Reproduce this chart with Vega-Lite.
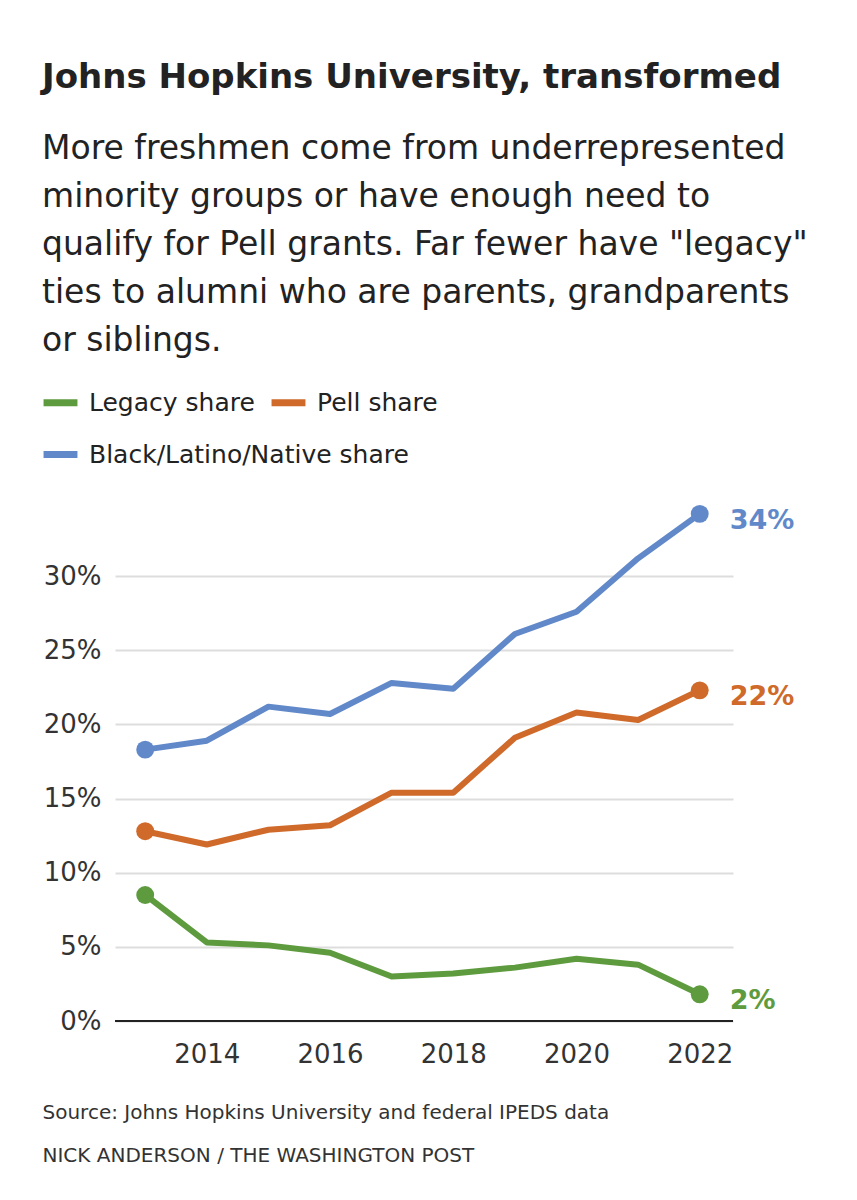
{
  "$schema": "https://vega.github.io/schema/vega-lite/v6.json",
  "width": 618,
  "height": 519,
  "autosize": {"type": "none"},
  "padding": {"left": 115, "top": 502, "right": 124, "bottom": 179},
  "background": "white",
  "title": {
    "text": "Johns Hopkins University, transformed",
    "subtitle": ["More freshmen come from underrepresented", "minority groups or have enough need to", "qualify for Pell grants. Far fewer have \"legacy\"", "ties to alumni who are parents, grandparents", "or siblings."],
    "anchor": "start",
    "frame": "group",
    "dx": -73,
    "offset": 24,
    "font": "DejaVu Sans",
    "fontSize": 34,
    "fontWeight": "bold",
    "color": "#222222",
    "subtitleFont": "DejaVu Sans",
    "subtitleFontSize": 33,
    "subtitleColor": "#222222",
    "subtitleLineHeight": 48,
    "subtitlePadding": 38
  },
  "data": {
    "values": [
      {"year": 2013, "series": "Legacy share", "value": 0.085},
      {"year": 2014, "series": "Legacy share", "value": 0.053},
      {"year": 2015, "series": "Legacy share", "value": 0.051},
      {"year": 2016, "series": "Legacy share", "value": 0.046},
      {"year": 2017, "series": "Legacy share", "value": 0.030},
      {"year": 2018, "series": "Legacy share", "value": 0.032},
      {"year": 2019, "series": "Legacy share", "value": 0.036},
      {"year": 2020, "series": "Legacy share", "value": 0.042},
      {"year": 2021, "series": "Legacy share", "value": 0.038},
      {"year": 2022, "series": "Legacy share", "value": 0.018},
      {"year": 2013, "series": "Pell share", "value": 0.128},
      {"year": 2014, "series": "Pell share", "value": 0.119},
      {"year": 2015, "series": "Pell share", "value": 0.129},
      {"year": 2016, "series": "Pell share", "value": 0.132},
      {"year": 2017, "series": "Pell share", "value": 0.154},
      {"year": 2018, "series": "Pell share", "value": 0.154},
      {"year": 2019, "series": "Pell share", "value": 0.191},
      {"year": 2020, "series": "Pell share", "value": 0.208},
      {"year": 2021, "series": "Pell share", "value": 0.203},
      {"year": 2022, "series": "Pell share", "value": 0.223},
      {"year": 2013, "series": "Black/Latino/Native share", "value": 0.183},
      {"year": 2014, "series": "Black/Latino/Native share", "value": 0.189},
      {"year": 2015, "series": "Black/Latino/Native share", "value": 0.212},
      {"year": 2016, "series": "Black/Latino/Native share", "value": 0.207},
      {"year": 2017, "series": "Black/Latino/Native share", "value": 0.228},
      {"year": 2018, "series": "Black/Latino/Native share", "value": 0.224},
      {"year": 2019, "series": "Black/Latino/Native share", "value": 0.261},
      {"year": 2020, "series": "Black/Latino/Native share", "value": 0.276},
      {"year": 2021, "series": "Black/Latino/Native share", "value": 0.312},
      {"year": 2022, "series": "Black/Latino/Native share", "value": 0.342}
    ]
  },
  "encoding": {
    "x": {
      "field": "year",
      "type": "quantitative",
      "scale": {"domain": [2012.51, 2022.54], "nice": false, "zero": false},
      "axis": {
        "values": [2014, 2016, 2018, 2020, 2022],
        "format": "d",
        "domain": false,
        "ticks": false,
        "grid": false,
        "labelFont": "DejaVu Sans",
        "labelFontSize": 26,
        "labelColor": "#333333",
        "labelPadding": 20,
        "title": ["Source: Johns Hopkins University and federal IPEDS data", "NICK ANDERSON / THE WASHINGTON POST"],
        "titleFont": "DejaVu Sans",
        "titleFontSize": 20,
        "titleFontWeight": "normal",
        "titleColor": "#333333",
        "titleAnchor": "start",
        "titleAlign": "left",
        "titleBaseline": "middle",
        "titleX": -73,
        "titleY": 91,
        "titleLineHeight": 43
      }
    },
    "y": {
      "field": "value",
      "type": "quantitative",
      "scale": {"domain": [0, 0.35], "nice": false},
      "axis": {
        "values": [0, 0.05, 0.1, 0.15, 0.2, 0.25, 0.3],
        "format": ".0%",
        "domain": false,
        "ticks": false,
        "grid": true,
        "gridColor": "#dddddd",
        "gridWidth": 2,
        "labelFont": "DejaVu Sans",
        "labelFontSize": 26,
        "labelColor": "#333333",
        "labelPadding": 14,
        "title": null
      }
    },
    "color": {
      "field": "series",
      "type": "nominal",
      "scale": {
        "domain": ["Legacy share", "Pell share", "Black/Latino/Native share"],
        "range": ["#5e9b3e", "#cf6a2b", "#6189c9"]
      },
      "legend": {
        "title": null,
        "values": ["Legacy share", "Pell share"],
        "orient": "none",
        "legendX": -75,
        "legendY": -120,
        "direction": "horizontal",
        "symbolType": "stroke",
        "symbolStrokeWidth": 7,
        "symbolSize": 1150,
        "labelFont": "DejaVu Sans",
        "labelFontSize": 25,
        "labelColor": "#222222",
        "labelOffset": 8,
        "columnPadding": 2,
        "labelLimit": 500
      }
    }
  },
  "layer": [
    {
      "mark": {"type": "rule", "color": "#222222", "strokeWidth": 2},
      "encoding": {"y": {"datum": 0}, "x": null, "color": null}
    },
    {
      "transform": [{"filter": "datum.series != 'Black/Latino/Native share'"}],
      "mark": {"type": "line", "strokeWidth": 6, "strokeJoin": "round", "strokeCap": "round"}
    },
    {
      "transform": [{"filter": "datum.series == 'Black/Latino/Native share'"}],
      "mark": {"type": "line", "strokeWidth": 6, "strokeJoin": "round", "strokeCap": "round"},
      "encoding": {
        "color": null,
        "stroke": {
          "field": "series",
          "type": "nominal",
          "scale": {"domain": ["Black/Latino/Native share"], "range": ["#6189c9"]},
          "legend": {
            "title": null,
            "orient": "none",
            "legendX": -75,
            "legendY": -68,
            "symbolType": "stroke",
            "symbolStrokeWidth": 7,
            "symbolSize": 1150,
            "labelFont": "DejaVu Sans",
            "labelFontSize": 25,
            "labelColor": "#222222",
            "labelOffset": 8,
            "labelLimit": 500
          }
        }
      }
    },
    {
      "transform": [{"filter": "datum.year == 2013 || datum.year == 2022"}],
      "mark": {"type": "circle", "size": 320, "opacity": 1}
    },
    {
      "transform": [{"filter": "datum.year == 2022"}],
      "mark": {"type": "text", "align": "left", "baseline": "middle", "dx": 30, "dy": 7, "font": "DejaVu Sans", "fontSize": 27, "fontWeight": "bold"},
      "encoding": {"text": {"field": "value", "format": ".0%"}}
    }
  ],
  "resolve": {"scale": {"color": "shared", "stroke": "independent"}},
  "config": {"view": {"stroke": null}}
}
